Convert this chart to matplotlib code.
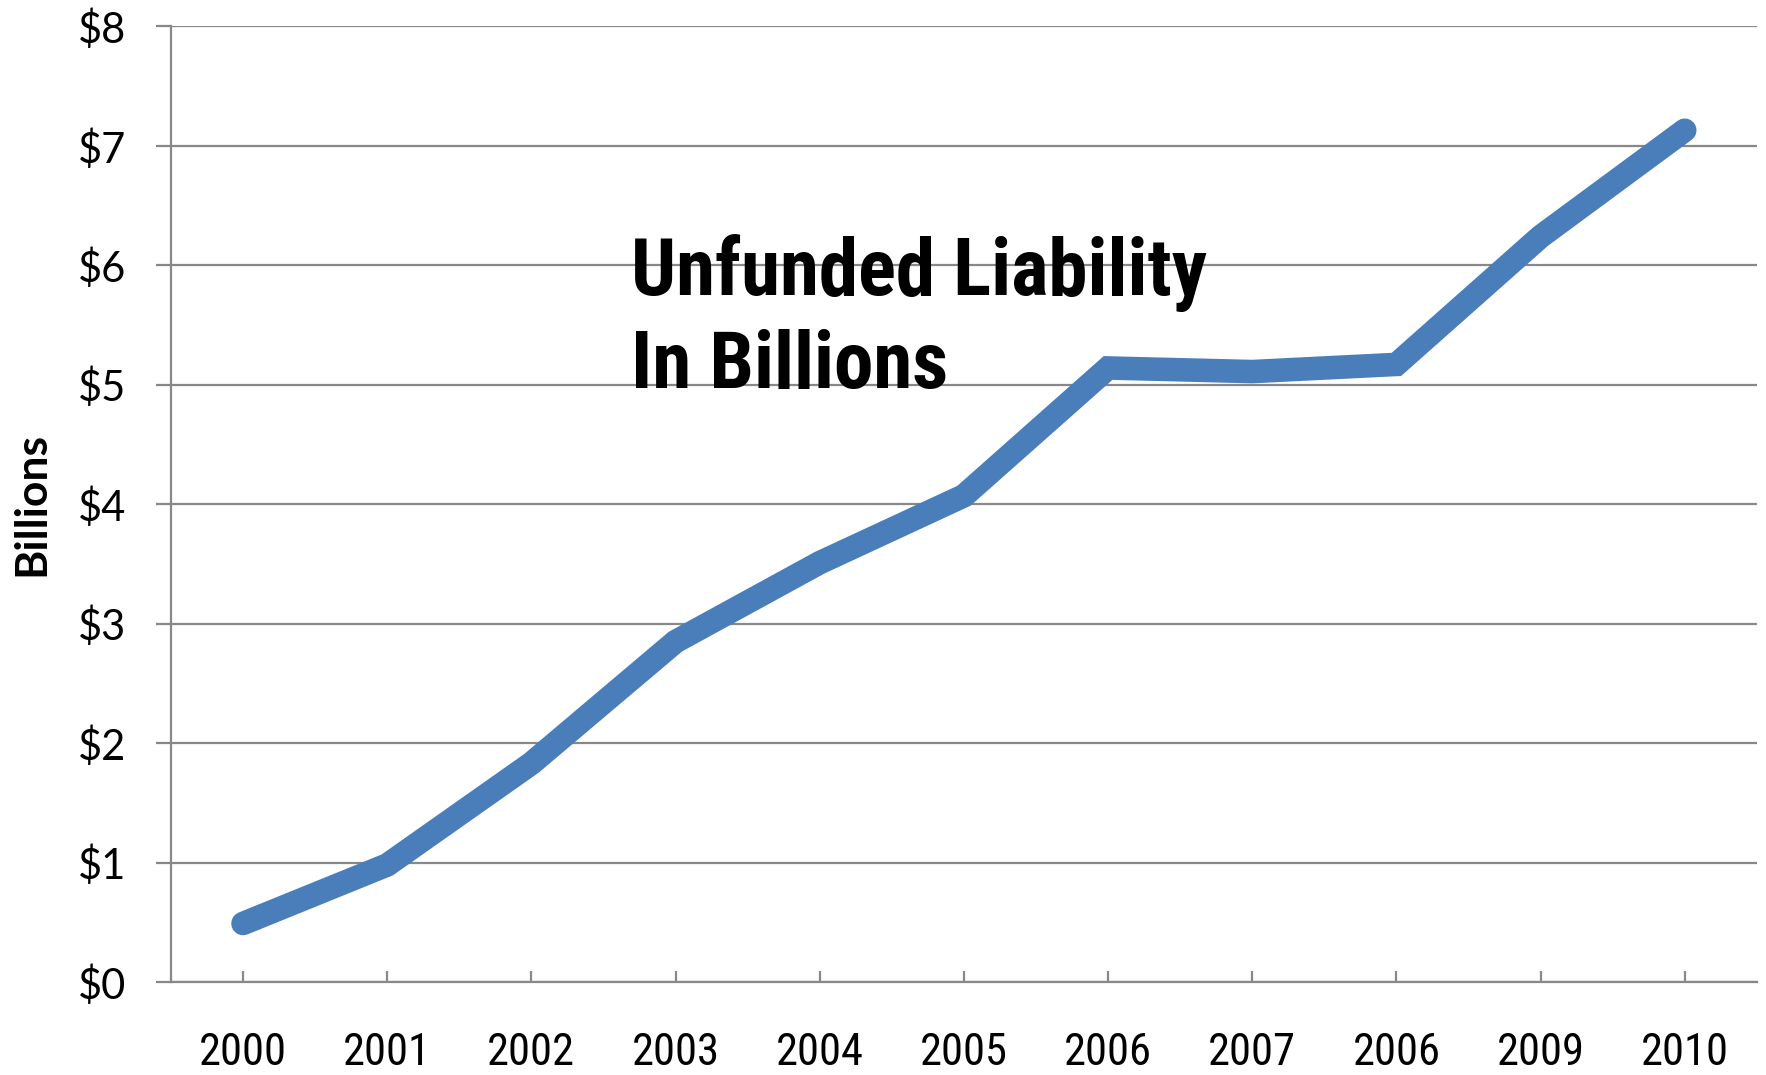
import matplotlib
matplotlib.use('Agg')
import matplotlib.pyplot as plt
from matplotlib import font_manager as fm

# Data: unfunded liability, billions of dollars
years = ['2000', '2001', '2002', '2003', '2004', '2005', '2006', '2007', '2006', '2009', '2010']
liability = [0.49, 0.98, 1.83, 2.85, 3.51, 4.07, 5.14, 5.11, 5.17, 6.24, 7.13]
y_ticks = [0, 1, 2, 3, 4, 5, 6, 7, 8]
y_labels = ['$' + str(v) for v in y_ticks]

# pick a narrow sans for the years and the note, like Arial Narrow
names = {f.name for f in fm.fontManager.ttflist}
narrow, stretch = 'DejaVu Sans', 'condensed'
for cand in ['Liberation Sans Narrow', 'Roboto Condensed', 'Open Sans Condensed']:
    if cand in names:
        narrow, stretch = cand, 'normal'
        break
body = 'Lato'

fig = plt.figure(figsize=(17.66, 10.75), dpi=100)
ax = fig.add_axes([0.0968, 0.0865, 0.898, 0.889])

x = list(range(len(years)))
ax.plot(x, liability, color='#4a7ebb', linewidth=17, solid_capstyle='round',
        solid_joinstyle='miter', zorder=3)

ax.set_xlim(-0.5, 10.5)
ax.set_ylim(0, 8)
ax.set_yticks(y_ticks)
ax.set_yticklabels(y_labels, fontfamily=body, fontsize=30)
ax.set_xticks(x)
ax.set_xticklabels(years, fontfamily=narrow, fontstretch=stretch, fontsize=32)

ax.grid(axis='y', color='#888888', linewidth=1.6, zorder=0)
for s in ['top', 'right']:
    ax.spines[s].set_visible(False)
for s in ['left', 'bottom']:
    ax.spines[s].set_color('#888888')
    ax.spines[s].set_linewidth(1.6)

ax.tick_params(axis='y', direction='out', length=11, width=1.6, color='#888888', pad=21)
ax.tick_params(axis='x', direction='in', length=8, width=1.6, color='#888888', pad=36)

fig.text(0.0178, 0.531, 'Billions', rotation=90, ha='center', va='center',
         fontfamily=body, fontweight='bold', fontsize=32)

# note inside the plot, one call per line
ax.text(2.69, 5.75, 'Unfunded Liability', fontfamily=narrow, fontstretch=stretch,
        fontweight='bold', fontsize=57, ha='left', va='baseline', zorder=4)
ax.text(2.69, 4.97, 'In Billions', fontfamily=narrow, fontstretch=stretch,
        fontweight='bold', fontsize=57, ha='left', va='baseline', zorder=4)

fig.savefig('out.png', dpi=100, facecolor='white')
